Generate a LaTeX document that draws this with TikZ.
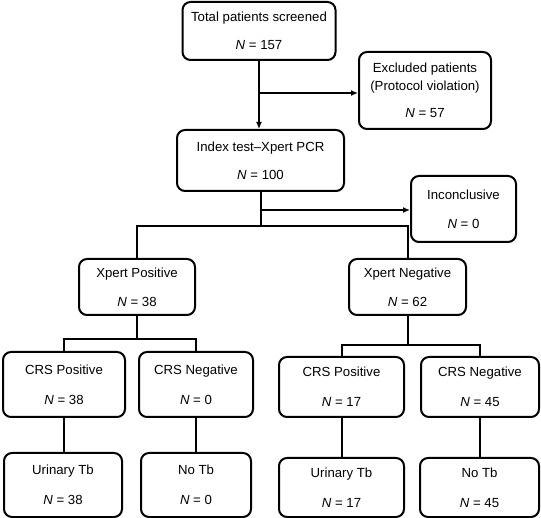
\documentclass[tikz,border=0pt]{standalone}
\usepackage{fontspec}
\setmainfont{Liberation Sans}
\usepackage{tikz}
\usetikzlibrary{arrows.meta,calc,positioning}

\tikzset{
  box/.style={draw, line width=2pt, rounded corners=8pt, align=center, inner sep=0pt,
    font=\fontsize{13.2}{15.8}\selectfont},
  link/.style={line width=2pt},
  linkarrow/.style={line width=2pt, -{Latex[length=7pt,width=6pt]}}
}
\newcommand{\nval}[1]{\textit{N} = #1}

\begin{document}
\begin{tikzpicture}[x=1pt,y=-1pt]
\useasboundingbox (0,0) rectangle (541,518);
% top of the flow
\node[box, minimum width=153pt, minimum height=58pt] (total) at (259,31) {Total patients screened\\[12pt]\nval{157}};
\node[box, minimum width=132pt, minimum height=77pt] (excl) at (425,90.5) {Excluded patients\\[2pt](Protocol violation)\\[11pt]\nval{57}};
\node[box, minimum width=167pt, minimum height=61pt] (index) at (260.5,160.5) {Index test--Xpert PCR\\[12pt]\nval{100}};
\node[box, minimum width=105pt, minimum height=66pt] (incon) at (463.5,209) {Inconclusive\\[13pt]\nval{0}};
% xpert result
\node[box, minimum width=116pt, minimum height=56pt] (xpos) at (137,287) {Xpert Positive\\[13pt]\nval{38}};
\node[box, minimum width=117pt, minimum height=56pt] (xneg) at (407.5,287) {Xpert Negative\\[13pt]\nval{62}};
% CRS
\node[box, minimum width=122pt, minimum height=65pt] (crspL) at (64,384.5) {CRS Positive\\[14pt]\nval{38}};
\node[box, minimum width=114pt, minimum height=65pt] (crsnL) at (196,384.5) {CRS Negative\\[14pt]\nval{0}};
\node[box, minimum width=125pt, minimum height=60pt] (crspR) at (341.5,387) {CRS Positive\\[14pt]\nval{17}};
\node[box, minimum width=118pt, minimum height=60pt] (crsnR) at (480,387) {CRS Negative\\[14pt]\nval{45}};
% final diagnosis
\node[box, minimum width=118pt, minimum height=64pt] (utbL) at (63,485) {Urinary Tb\\[14pt]\nval{38}};
\node[box, minimum width=110pt, minimum height=64pt] (notbL) at (196,485) {No Tb\\[14pt]\nval{0}};
\node[box, minimum width=125pt, minimum height=59pt] (utbR) at (341.5,487.5) {Urinary Tb\\[14pt]\nval{17}};
\node[box, minimum width=119pt, minimum height=59pt] (notbR) at (479.5,487.5) {No Tb\\[14pt]\nval{45}};

% connectors
\draw[linkarrow] (total.south) -- (total.south |- index.north);
\coordinate (ex) at (total.south |- 0,93);
\draw[linkarrow] (ex) -- (ex -| excl.west);

\coordinate (sp1) at (index.south |- 0,226);
\coordinate (in) at (index.south |- 0,210);
\draw[link] (index.south) -- (sp1);
\draw[linkarrow] (in) -- (in -| incon.west);
\draw[link] (xpos.north) |- (sp1) -| (xneg.north);

\coordinate (sp2) at (xpos.south |- 0,339);
\draw[link] (xpos.south) -- (sp2);
\draw[link] (crspL.north) |- (sp2) -| (crsnL.north);
\coordinate (sp3) at (xneg.south |- 0,345);
\draw[link] (xneg.south) -- (sp3);
\draw[link] (crspR.north) |- (sp3) -| (crsnR.north);

\draw[link] (crspL.south) -- (crspL.south |- utbL.north);
\draw[link] (crsnL) -- (notbL);
\draw[link] (crspR) -- (utbR);
\draw[link] (crsnR.south) -- (crsnR.south |- notbR.north);
\end{tikzpicture}
\end{document}
